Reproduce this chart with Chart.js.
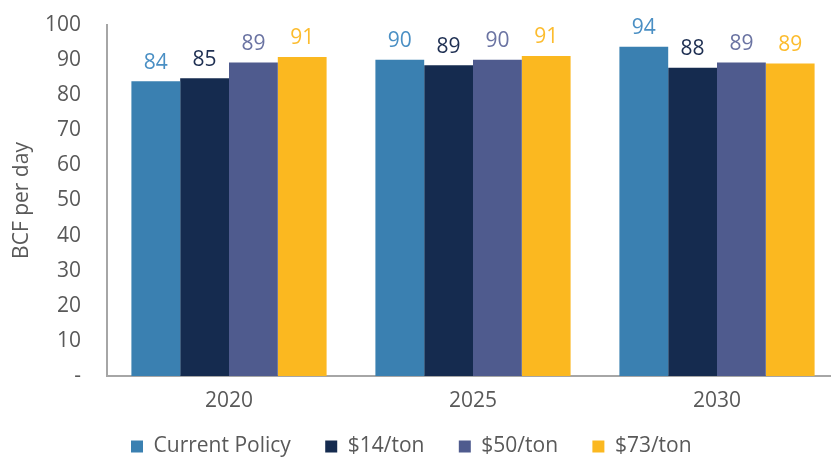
<!DOCTYPE html>
<html>
<head>
<meta charset="utf-8">
<script src="https://cdn.jsdelivr.net/npm/chart.js@4"></script>
<style>
  html, body { margin: 0; padding: 0; background: #fff; overflow: hidden; }
  #wrap { width: 840px; height: 467px; }
</style>
</head>
<body>
<div id="wrap"><canvas id="chart"></canvas></div>
<script>
// BCF per day by carbon price scenario
const years = ["2020", "2025", "2030"]
const seriesNames = ["Current Policy", "$14/ton", "$50/ton", "$73/ton"]
const currentPolicy = [84, 90.1, 93.8]
const ton14 = [84.8, 88.5, 87.8]
const ton50 = [89.3, 90.1, 89.3]
const ton73 = [90.9, 91.2, 89.0]
const yTicks = [0, 10, 20, 30, 40, 50, 60, 70, 80, 90, 100]

const barColors = ["#3A80B1", "#152B4F", "#4F5B8E", "#FBB820"]
const labelColors = ["#4A8FC4", "#1E2F52", "#6A73A2", "#FCBC2E"]
const textGrey = "#595959"
const fontFamily = "'Open Sans', sans-serif"
const fontSize = 21

// draw the value on top of every bar
const valueLabels = {
  id: "valueLabels",
  afterDatasetsDraw(chart) {
    const ctx = chart.ctx
    ctx.save()
    ctx.font = fontSize + "px " + fontFamily
    ctx.textAlign = "center"
    ctx.textBaseline = "bottom"
    chart.data.datasets.forEach((ds, i) => {
      const meta = chart.getDatasetMeta(i)
      meta.data.forEach((bar, j) => {
        ctx.fillStyle = labelColors[i]
        ctx.fillText(Math.round(ds.data[j]), bar.x, bar.y - 8)
      })
    })
    ctx.restore()
  },
}

const chartData = {
  labels: years,
  datasets: [currentPolicy, ton14, ton50, ton73].map((values, i) => ({
    label: seriesNames[i],
    data: values,
    backgroundColor: barColors[i],
    borderWidth: 0,
    barPercentage: 1,
    categoryPercentage: 0.8,
  })),
}

const config = {
  type: "bar",
  data: chartData,
  options: {
    responsive: true,
    maintainAspectRatio: false,
    animation: false,
    layout: { padding: { top: 25, right: 1, left: 0, bottom: 0 } },
    plugins: {
      legend: {
        position: "bottom",
        labels: {
          color: textGrey,
          font: { family: fontFamily, size: fontSize },
          boxWidth: 12,
          boxHeight: 12,
          padding: 18,
          generateLabels: (chart) =>
            Chart.defaults.plugins.legend.labels.generateLabels(chart).map((item) => {
              item.text = item.text + "   "
              return item
            }),
        },
      },
      tooltip: { enabled: false },
    },
    scales: {
      x: {
        afterFit: (scale) => {
          scale.height = 42
        },
        grid: { display: false, drawTicks: false },
        border: { color: "#A6A6A6", width: 2 },
        ticks: {
          color: textGrey,
          font: { family: fontFamily, size: fontSize },
          padding: 12,
        },
      },
      y: {
        min: 0,
        max: 100,
        afterBuildTicks: (scale) => {
          scale.ticks = yTicks.map((v) => ({ value: v }))
        },
        afterFit: (scale) => {
          scale.width = 107
          scale.paddingTop = 0
          scale.paddingBottom = 0
        },
        grid: { display: false, drawTicks: false },
        border: { color: "#A6A6A6", width: 2 },
        ticks: {
          color: textGrey,
          font: { family: fontFamily, size: fontSize },
          padding: 26,
          callback: (v) => (v === 0 ? "-" : v),
        },
        title: {
          display: true,
          text: "BCF per day",
          color: textGrey,
          font: { family: fontFamily, size: fontSize },
          padding: { top: 9, bottom: 0 },
        },
      },
    },
  },
  plugins: [valueLabels],
}

const barChart = new Chart(document.getElementById("chart"), config)
</script>
</body>
</html>
